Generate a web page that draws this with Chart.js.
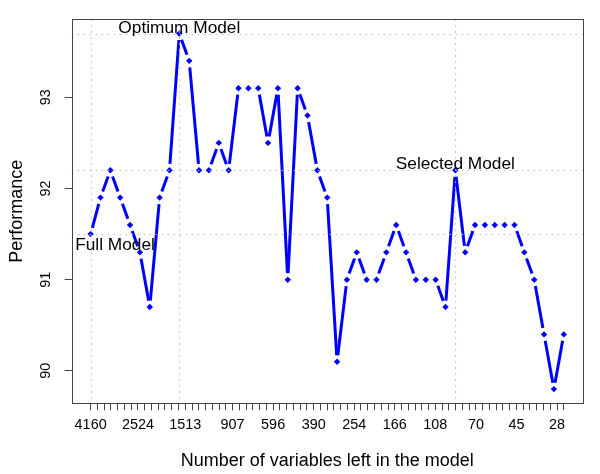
<!DOCTYPE html>
<html>
<head>
<meta charset="utf-8">
<script src="https://cdn.jsdelivr.net/npm/chart.js@4/dist/chart.umd.min.js"></script>
<style>
html,body{margin:0;padding:0;background:#fff;}
#wrap{width:600px;height:474px;}
</style>
</head>
<body>
<div id="wrap"><canvas id="c" width="600" height="474"></canvas></div>
<script>
// ---- data ----
const performance = [
  91.5, 91.9, 92.2, 91.9, 91.6, 91.3, 90.7, 91.9, 92.2, 93.7,
  93.4, 92.2, 92.2, 92.5, 92.2, 93.1, 93.1, 93.1, 92.5, 93.1,
  91.0, 93.1, 92.8, 92.2, 91.9, 90.1, 91.0, 91.3, 91.0, 91.0,
  91.3, 91.6, 91.3, 91.0, 91.0, 91.0, 90.7, 92.2, 91.3, 91.6,
  91.6, 91.6, 91.6, 91.6, 91.3, 91.0, 90.4, 89.8, 90.4
];
const xTickLabels = ['4160','2524','1513','907','596','390','254','166','108','70','45','28'];
const xTickLabelSteps = [0, 7, 14, 21, 27, 33, 39, 45, 51, 57, 63, 69];
const xTickCount = 71;
const yTickValues = [90, 91, 92, 93];
const markedModels = [
  { index: 0,  text: 'Full Model' },
  { index: 9,  text: 'Optimum Model' },
  { index: 37, text: 'Selected Model' }
];
const xTitle = 'Number of variables left in the model';
const yTitle = 'Performance';

// ---- helpers ----
const FONT = '"Liberation Sans", Arial, Helvetica, sans-serif';
const nPts = performance.length;
const xExt = (nPts - 1) * 0.04;
const yMinD = Math.min(...performance), yMaxD = Math.max(...performance);
const yExt = (yMaxD - yMinD) * 0.04;
const points = performance.map((v, i) => ({ x: i, y: v }));
const tickStep = (nPts - 1) / (xTickCount - 1);
const LINE_GAP = 6.5;

const rPlot = {
  id: 'rPlot',
  beforeDatasetsDraw(chart) {
    // R type="b": line segments between points, with a gap around each point
    const { ctx } = chart;
    chart.data.datasets.forEach((ds, di) => {
      const meta = chart.getDatasetMeta(di);
      const els = meta.data;
      ctx.save();
      ctx.strokeStyle = ds.borderColor;
      ctx.lineWidth = ds.lineWidthR;
      ctx.lineCap = 'butt';
      for (let i = 0; i < els.length - 1; i++) {
        const p = els[i], q = els[i + 1];
        const dx = q.x - p.x, dy = q.y - p.y;
        const len = Math.hypot(dx, dy);
        if (len <= 2 * LINE_GAP) continue;
        const ux = dx / len, uy = dy / len;
        ctx.beginPath();
        ctx.moveTo(p.x + ux * LINE_GAP, p.y + uy * LINE_GAP);
        ctx.lineTo(q.x - ux * LINE_GAP, q.y - uy * LINE_GAP);
        ctx.stroke();
      }
      ctx.restore();
    });
  },
  afterDatasetsDraw(chart) {
    const { ctx, chartArea: a, scales: { x, y } } = chart;
    ctx.save();
    ctx.strokeStyle = '#bdbdbd';
    ctx.lineWidth = 1.2;
    ctx.setLineDash([1.5, 4.5]);
    markedModels.forEach(m => {
      const px = Math.round(x.getPixelForValue(m.index)) + 0.5;
      const py = Math.round(y.getPixelForValue(performance[m.index])) + 0.5;
      ctx.beginPath(); ctx.moveTo(px, a.top); ctx.lineTo(px, a.bottom); ctx.stroke();
      ctx.beginPath(); ctx.moveTo(a.left, py); ctx.lineTo(a.right, py); ctx.stroke();
    });
    ctx.restore();
  },
  afterDraw(chart) {
    const { ctx, chartArea: a, scales: { x, y } } = chart;
    ctx.save();
    // box
    ctx.strokeStyle = '#444';
    ctx.lineWidth = 1;
    ctx.strokeRect(Math.round(a.left) + 0.5, Math.round(a.top) + 0.5,
                   Math.round(a.right) - Math.round(a.left), Math.round(a.bottom) - Math.round(a.top));
    ctx.fillStyle = '#000';
    // x tick labels
    ctx.font = '14.4px ' + FONT;
    ctx.textAlign = 'center';
    ctx.textBaseline = 'alphabetic';
    xTickLabelSteps.forEach((k, j) => {
      ctx.fillText(xTickLabels[j], x.getPixelForValue(k * tickStep), 429);
    });
    // y tick labels (rotated like R)
    yTickValues.forEach(v => {
      ctx.save();
      ctx.translate(50, y.getPixelForValue(v));
      ctx.rotate(-Math.PI / 2);
      ctx.fillText(String(v), 0, 0);
      ctx.restore();
    });
    // axis titles
    ctx.font = '18px ' + FONT;
    ctx.fillText(xTitle, (a.left + a.right) / 2, 466);
    ctx.save();
    ctx.translate(21.5, (a.top + a.bottom) / 2);
    ctx.rotate(-Math.PI / 2);
    ctx.fillText(yTitle, 0, 0);
    ctx.restore();
    // annotations
    ctx.font = '17.3px ' + FONT;
    markedModels.forEach(m => {
      const px = x.getPixelForValue(m.index);
      const py = y.getPixelForValue(performance[m.index]);
      if (m.index === 0) {
        ctx.textAlign = 'left';
        ctx.fillText(m.text, px - 15.5, py + 16);
      } else {
        ctx.textAlign = 'center';
        ctx.fillText(m.text, px, py - 1);
      }
    });
    ctx.restore();
  }
};

new Chart(document.getElementById('c'), {
  type: 'line',
  data: {
    datasets: [{
      data: points,
      showLine: false,
      borderColor: '#0000ff',
      lineWidthR: 3,
      pointStyle: 'rectRot',
      pointRadius: 3.2,
      pointBorderWidth: 0,
      pointBackgroundColor: '#0000ff',
      fill: false
    }]
  },
  options: {
    responsive: false,
    animation: false,
    events: [],
    layout: { padding: { left: 0, right: 17.3, top: 19.3, bottom: 0 } },
    plugins: { legend: { display: false }, tooltip: { enabled: false } },
    scales: {
      x: {
        type: 'linear',
        min: -xExt,
        max: nPts - 1 + xExt,
        afterBuildTicks: s => {
          s.ticks = Array.from({ length: xTickCount }, (_, k) => ({ value: k * tickStep }));
        },
        afterFit: s => { s.height = 474 - 403.3; },
        ticks: { display: false },
        grid: { display: true, drawOnChartArea: false, drawTicks: true, tickLength: 7, color: '#444', lineWidth: 1 },
        border: { display: false }
      },
      y: {
        type: 'linear',
        min: yMinD - yExt,
        max: yMaxD + yExt,
        afterBuildTicks: s => { s.ticks = yTickValues.map(v => ({ value: v })); },
        afterFit: s => { s.width = 71.7; },
        ticks: { display: false },
        grid: { display: true, drawOnChartArea: false, drawTicks: true, tickLength: 7, color: '#444', lineWidth: 1 },
        border: { display: false }
      }
    }
  },
  plugins: [rPlot]
});
</script>
</body>
</html>
